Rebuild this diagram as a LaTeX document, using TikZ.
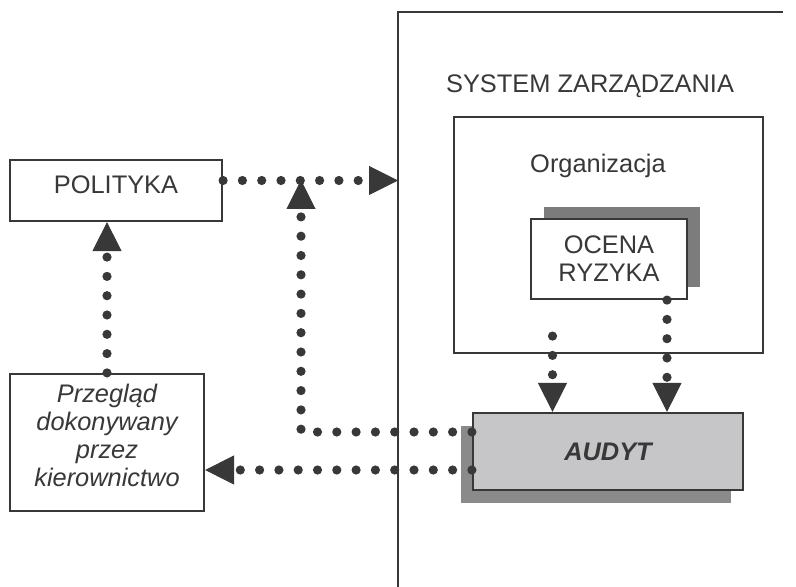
\documentclass[tikz,border=0pt]{standalone}
\usepackage{fontspec}
\setmainfont{Liberation Sans}
\usetikzlibrary{arrows.meta,shadows}
\definecolor{ink}{HTML}{383838}
\definecolor{auditfill}{HTML}{C6C6C8}
\definecolor{auditshade}{HTML}{8A8A8A}
\definecolor{riskshade}{HTML}{7C7C7C}

\begin{document}
\begin{tikzpicture}[x=0.5pt,y=-0.5pt,
  every node/.style={font=\fontsize{12.7}{14}\selectfont, text=ink},
  box/.style={draw=ink, line width=1.1pt, fill=white, align=center, inner sep=0pt},
  flow/.style={ink, line width=4.6pt, line cap=round, dash pattern=on 0pt off 9.65pt,
    -{Triangle[length=14.5pt, width=14.5pt, line width=0.5pt]}}]
\useasboundingbox (0,0) rectangle (796,587);

% system frame
\draw[ink, line width=1pt] (398,587) coordinate (sysS) |- (783,12) coordinate (sysNE);
\node[anchor=base] (sysLabel) at (590,93) {SYSTEM ZARZĄDZANIA};

\node[box, minimum width=154.5pt, minimum height=118pt] (org) at (608.5,235) {};
\node[anchor=base] (orgLabel) at (598,173) {Organizacja};
\node[box, minimum width=78pt, minimum height=40pt,
  drop shadow={shadow xshift=6.5pt, shadow yshift=6pt, fill=riskshade, opacity=1}]
  (ocena) at (609,259) {OCENA\\RYZYKA};
\node[box, fill=auditfill, minimum width=135pt, minimum height=38.5pt,
  drop shadow={shadow xshift=-6pt, shadow yshift=-6.5pt, fill=auditshade, opacity=1},
  font=\fontsize{12.7}{14}\selectfont\bfseries\itshape]
  (audyt) at (608,451.5) {AUDYT};

\node[box, minimum width=106pt, minimum height=30.5pt, text depth=6pt]
  (polityka) at (116,190.5) {POLITYKA};
\node[box, minimum width=97pt, minimum height=68.5pt, text depth=7pt,
  font=\fontsize{12.7}{14}\selectfont\itshape]
  (przeglad) at (107,442.5) {Przegląd\\dokonywany\\przez\\kierownictwo};

\coordinate (polOut) at ([yshift=5pt]polityka.east);
\coordinate (jn) at (301,180);
\coordinate (orgOut) at ([xshift=-28pt,yshift=9pt]org.south);

\draw[flow] (polOut) -- (polOut -| sysS);
\draw[flow] (przeglad.north) -- (przeglad.north |- polityka.south);
\draw[flow] ([yshift=9.75pt]audyt.west) -| (jn);
\draw[flow] ([yshift=-9.25pt]audyt.west) -- ([yshift=-9.25pt]audyt.west -| przeglad.east);
\draw[flow] (orgOut) -- (orgOut |- audyt.north);
\draw[flow] ([xshift=29pt]ocena.south) -- ([xshift=29pt]ocena.south |- audyt.north);
\end{tikzpicture}
\end{document}
